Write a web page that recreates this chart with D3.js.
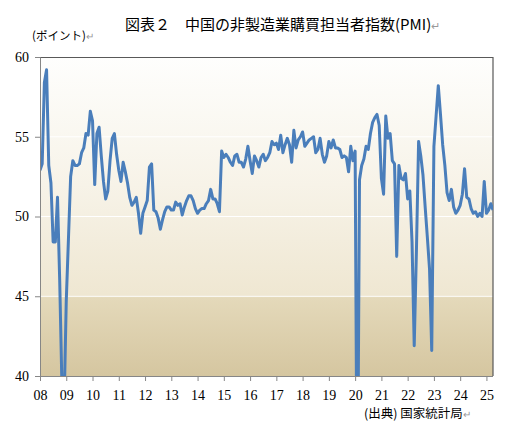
<!DOCTYPE html>
<html>
<head>
<meta charset="utf-8">
<script src="https://cdn.jsdelivr.net/npm/d3@7"></script>
<style>
body { margin: 0; background: #fff; }
</style>
</head>
<body>
<div id="chart"></div>
<script>
// month-by-month values, Jan 2008 .. Apr 2025
const pmi2008_2014 = [
    52.9, 53.3, 58.4, 59.2, 53.2, 52.1, 48.4, 48.4, 51.2, 46.0, 39.5, 38.0,
    44.7, 48.6, 52.5, 53.5, 53.2, 53.2, 53.3, 54.0, 54.3, 55.2, 55.1, 56.6,
    56.0, 52.0, 55.2, 55.6, 53.8, 52.2, 51.1, 51.6, 53.5, 54.9, 55.2, 53.9,
    52.9, 52.2, 53.4, 52.8, 52.1, 51.2, 50.7, 50.9, 51.2, 50.2, 48.95, 50.2,
    50.6, 51.0, 53.1, 53.3, 50.4, 50.3, 49.9, 49.2, 49.8, 50.3, 50.6, 50.6,
    50.4, 50.4, 50.9, 50.7, 50.8, 50.1, 50.6, 51.0, 51.3, 51.3, 51.0, 50.5,
    50.2, 50.4, 50.5, 50.5, 50.8, 51.0, 51.7, 51.1, 51.1, 50.8, 50.3, 54.1
];
const pmi2015_2025 = [
    53.7, 53.9, 53.7, 53.4, 53.2, 53.8, 53.9, 53.4, 53.4, 53.1, 53.6, 54.4,
    53.5, 52.7, 53.8, 53.5, 53.1, 53.7, 53.9, 53.5, 53.7, 54.0, 54.7, 54.5,
    54.6, 54.2, 55.1, 54.0, 54.5, 54.9, 54.5, 53.4, 55.4, 54.3, 54.8, 55.0,
    55.3, 54.4, 54.6, 54.8, 54.9, 55.0, 54.0, 54.2, 54.9, 53.9, 53.4, 53.8,
    54.7, 54.3, 54.8, 54.3, 54.3, 54.2, 53.7, 53.8, 53.7, 52.8, 54.4, 53.5,
    54.1, 29.6, 52.3, 53.2, 53.6, 54.4, 54.2, 55.2, 55.9, 56.2, 56.4, 55.7,
    52.4, 51.4, 56.3, 54.9, 55.2, 53.5, 53.3, 47.5, 53.2, 52.4, 52.3, 52.7,
    51.1, 51.6, 48.4, 41.9, 47.8, 54.7, 53.8, 52.6, 50.6, 48.7, 46.7, 41.6,
    54.4, 56.3, 58.2, 56.4, 54.5, 53.2, 51.5, 51.0, 51.7, 50.6, 50.2, 50.4,
    50.7, 51.4, 53.0, 51.2, 51.1, 50.5, 50.2, 50.3, 50.0, 50.2, 50.0, 52.2,
    50.2, 50.4, 50.8, 50.4
];
const yearLabels = ["08","09","10","11","12","13","14","15","16","17","18","19","20","21","22","23","24","25"];
const yTicks = [40, 45, 50, 55, 60];
const gridValues = [45, 50, 55];

const pmi = pmi2008_2014.concat(pmi2015_2025);

let w = 505;
let h = 424;
let m = {top: 57, right: 12, bottom: 48, left: 40};
let pw = w - m.left - m.right;
let ph = h - m.top - m.bottom;

let svg = d3.select("#chart")
    .append("svg")
    .attr("width", w)
    .attr("height", h);

let defs = svg.append("defs");
let grad = defs.append("linearGradient")
    .attr("id", "bg")
    .attr("x1", 0).attr("y1", 0)
    .attr("x2", 0).attr("y2", 1);
grad.append("stop").attr("offset", "0%").attr("stop-color", "#fefefd");
grad.append("stop").attr("offset", "40%").attr("stop-color", "#f7f3e8");
grad.append("stop").attr("offset", "74.5%").attr("stop-color", "#efe7d2");
grad.append("stop").attr("offset", "75.5%").attr("stop-color", "#e4d9ba");
grad.append("stop").attr("offset", "100%").attr("stop-color", "#d5c6a0");

defs.append("clipPath").attr("id", "clip")
    .append("rect")
    .attr("width", pw)
    .attr("height", ph);

let x = d3.scaleLinear().domain([0, pmi.length - 1]).range([0, pw]);
let y = d3.scaleLinear().domain([40, 60]).range([ph, 0]);

let g = svg.append("g").attr("transform", `translate(${m.left},${m.top})`);

g.append("rect")
    .attr("width", pw)
    .attr("height", ph)
    .attr("fill", "url(#bg)");

g.selectAll("line.grid")
    .data(gridValues)
    .enter()
    .append("line")
    .attr("class", "grid")
    .attr("x1", 0)
    .attr("x2", pw)
    .attr("y1", d => y(d))
    .attr("y2", d => y(d))
    .attr("stroke", "#ffffff")
    .attr("stroke-width", 1.2);

// frame: top and right
g.append("path")
    .attr("d", `M0,0.5H${pw}V${ph}`)
    .attr("fill", "none")
    .attr("stroke", "#595959")
    .attr("stroke-width", 1.2);

let line = d3.line()
    .x((d, i) => x(i))
    .y(d => y(d));

g.append("path")
    .datum(pmi)
    .attr("clip-path", "url(#clip)")
    .attr("d", line)
    .attr("fill", "none")
    .attr("stroke", "#4a7ebb")
    .attr("stroke-width", 3)
    .attr("stroke-linejoin", "round");

// y axis
let yAxis = d3.axisLeft(y)
    .tickValues(yTicks)
    .tickSize(5)
    .tickPadding(6);
let ya = g.append("g").call(yAxis);
ya.select(".domain").attr("stroke", "#868686");
ya.selectAll(".tick line").attr("stroke", "#868686");
ya.selectAll("text")
    .attr("font-family", "'Liberation Serif', 'DejaVu Serif', serif")
    .attr("font-size", "14px")
    .attr("fill", "#000");

// x axis, a tick at each January
let xAxis = d3.axisBottom(x)
    .tickValues(yearLabels.map((d, i) => i * 12))
    .tickFormat((d, i) => yearLabels[i])
    .tickSize(5)
    .tickPadding(9);
let xa = g.append("g")
    .attr("transform", `translate(0,${ph})`)
    .call(xAxis);
xa.select(".domain").attr("stroke", "#868686").attr("d", `M0,0.5H${pw}`);
xa.selectAll(".tick line").attr("stroke", "#868686");
xa.selectAll("text")
    .attr("font-family", "'Liberation Serif', 'DejaVu Serif', serif")
    .attr("font-size", "14px")
    .attr("fill", "#000");

// texts
let jp = "'Noto Sans CJK JP', 'Noto Sans', sans-serif";

let title = svg.append("text")
    .attr("x", 125)
    .attr("y", 30)
    .attr("font-family", jp)
    .attr("font-size", "15px")
    .attr("fill", "#000");
title.append("tspan").text("図表２　中国の非製造業購買担当者指数(PMI)");
title.append("tspan").attr("fill", "#999").attr("font-size", "11px").text("↵");

let unit = svg.append("text")
    .attr("x", 32)
    .attr("y", 40)
    .attr("font-family", jp)
    .attr("font-size", "11.5px")
    .attr("fill", "#000");
unit.append("tspan").text("(ポイント)");
unit.append("tspan").attr("fill", "#999").attr("font-size", "10px").text("↵");

let src = svg.append("text")
    .attr("x", 364)
    .attr("y", 418)
    .attr("font-family", jp)
    .attr("font-size", "12.5px")
    .attr("fill", "#000");
src.append("tspan").text("(出典) 国家統計局");
src.append("tspan").attr("fill", "#999").attr("font-size", "10px").text("↵");
</script>
</body>
</html>
